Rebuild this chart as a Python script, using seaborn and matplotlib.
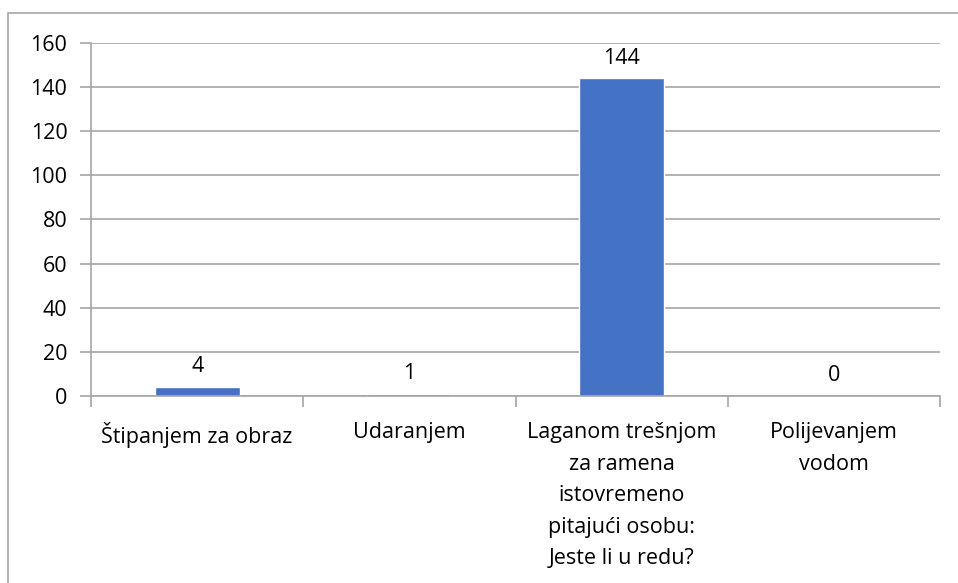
import pandas as pd
import seaborn as sns
import matplotlib.pyplot as plt
from matplotlib.patches import Rectangle

categories = [
    'Štipanjem za obraz',
    'Udaranjem',
    'Laganom trešnjom\nza ramena\nistovremeno\npitajući osobu:\nJeste li u redu?',
    'Polijevanjem\nvodom',
]
counts = [4, 1, 144, 0]
y_ticks = [0, 20, 40, 60, 80, 100, 120, 140, 160]

df = pd.DataFrame({'odgovor': categories, 'broj': counts})

sns.set_style('white')
plt.rcParams['font.family'] = ['Open Sans', 'DejaVu Sans']
plt.rcParams['text.color'] = 'black'
plt.rcParams['xtick.color'] = 'black'
plt.rcParams['ytick.color'] = 'black'

W, H = 958, 583
fig = plt.figure(figsize=(W / 100, H / 100), dpi=100)

# outer chart frame (Excel style), runs off the right and bottom edges
fig.patches.append(Rectangle((8 / W, -0.1), 1.2, 1 - 13 / H + 0.1,
                             transform=fig.transFigure, fill=False,
                             edgecolor='#A6A6A6', linewidth=1.2))

ax = fig.add_axes([91 / W, 1 - 396 / H, (940 - 91) / W, (396 - 43) / H])
sns.barplot(data=df, x='odgovor', y='broj', color='#4472C4', width=0.4,
            saturation=1, ax=ax)

ax.set_ylim(0, 160)
ax.set_xlim(-0.5, len(categories) - 0.5)
ax.set_yticks(y_ticks)
ax.yaxis.grid(True, color='#A6A6A6', linewidth=1.2)
ax.set_axisbelow(True)
ax.set_xlabel('')
ax.set_ylabel('')

for side in ['top', 'right']:
    ax.spines[side].set_visible(False)
for side in ['left', 'bottom']:
    ax.spines[side].set_color('#A6A6A6')
    ax.spines[side].set_linewidth(1.2)

fs = 15.5
ax.tick_params(axis='y', length=8, width=1.2, color='#A6A6A6', pad=9,
               labelsize=fs, left=True, labelcolor='black')
ax.set_xticks(range(len(categories)))
ax.set_xticklabels(categories, fontsize=fs, linespacing=1.65, va='top',
                   color='black')
ax.set_xticks([i - 0.5 for i in range(len(categories) + 1)], minor=True)
ax.tick_params(axis='x', which='major', length=0, pad=19)
ax.tick_params(axis='x', which='minor', length=8, width=1.2,
               color='#A6A6A6', bottom=True)

ax.bar_label(ax.containers[0], labels=[str(c) for c in counts],
             padding=7, fontsize=fs, color='black')

fig.savefig('out.png', dpi=100)
